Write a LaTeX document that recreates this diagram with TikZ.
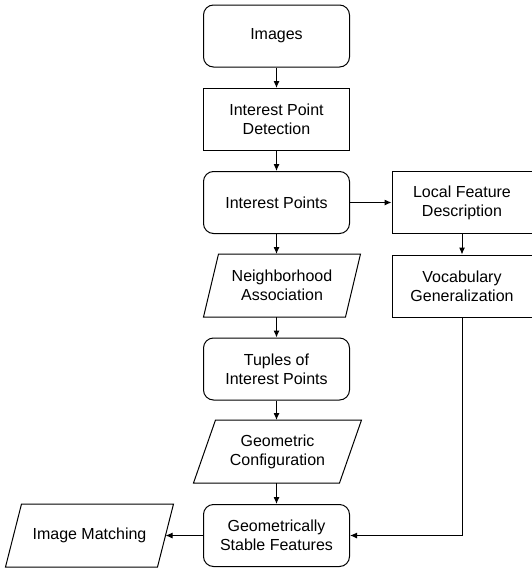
\documentclass[tikz,border=0pt]{standalone}
\usepackage{fontspec}
\setmainfont{Liberation Sans}
\usepackage{tikz}
\usetikzlibrary{arrows.meta}
\usetikzlibrary{calc}
\tikzset{term/.style={draw = black, rounded corners = 10pt, minimum width = 146pt, minimum height = 62pt, align = center, inner sep = 0pt}}
\tikzset{proc/.style={draw = black, minimum width = #1, minimum height = 62pt, align = center, inner sep = 0pt}}
\tikzset{data/.style={minimum width = #1, minimum height = 62pt, align = center, inner sep = 0pt}}
\tikzset{flow/.style={draw = black, -{Latex[length=7pt, width=6pt]}}}

\begin{document}
\begin{tikzpicture}[line width = 1pt, x = 1pt, y = 1pt, font = \fontsize{16}{19}\selectfont]
	\useasboundingbox (0, 0) rectangle (532, -570);
	% main column
	\node[term] (img) at (276.5, -36) {Images};
	\node[proc = 146pt] (ipd) at (276.5, -119.5) {Interest Point\\Detection};
	\node[term] (ip) at (276.5, -202.5) {Interest Points};
	\node[data = 141pt] (nbh) at (282, -285.5) {Neighborhood\\Association};
	\node[term] (tup) at (276.5, -369) {Tuples of\\Interest Points};
	\node[data = 145pt] (geo) at (277.5, -451.5) {Geometric\\Configuration};
	\node[term] (gsf) at (276.5, -535.5) {Geometrically\\Stable Features};
	% side branches
	\node[proc = 140pt] (lfd) at (462, -202.5) {Local Feature\\Description};
	\node[proc = 140pt] (voc) at (462, -286) {Vocabulary\\Generalization};
	\node[data = 151pt] (match) at (89.5, -535.5) {Image Matching};

	% slanted outlines
	\foreach \n/\s in {nbh/7.5, geo/11, match/8}
		\draw ([xshift = \s pt]\n.north west) -- ([xshift = \s pt]\n.north east)
			-- ([xshift = -\s pt]\n.south east) -- ([xshift = -\s pt]\n.south west) -- cycle;

	\draw[flow] (img) -- (ipd);
	\draw[flow] (ipd) -- (ip);
	\draw[flow] (ip.south) -- (ip.south |- nbh.north);
	\draw[flow] (ip.south |- nbh.south) -- (tup.north);
	\draw[flow] (tup.south) -- (tup.south |- geo.north);
	\draw[flow] (tup.south |- geo.south) -- (gsf.north);
	\draw[flow] (ip.east) -- (lfd.west);
	\draw[flow] (lfd) -- (voc);
	\draw[flow] (voc.south) |- (gsf.east);
	\draw[flow] (gsf.west) -- (match.east);
\end{tikzpicture}
\end{document}
